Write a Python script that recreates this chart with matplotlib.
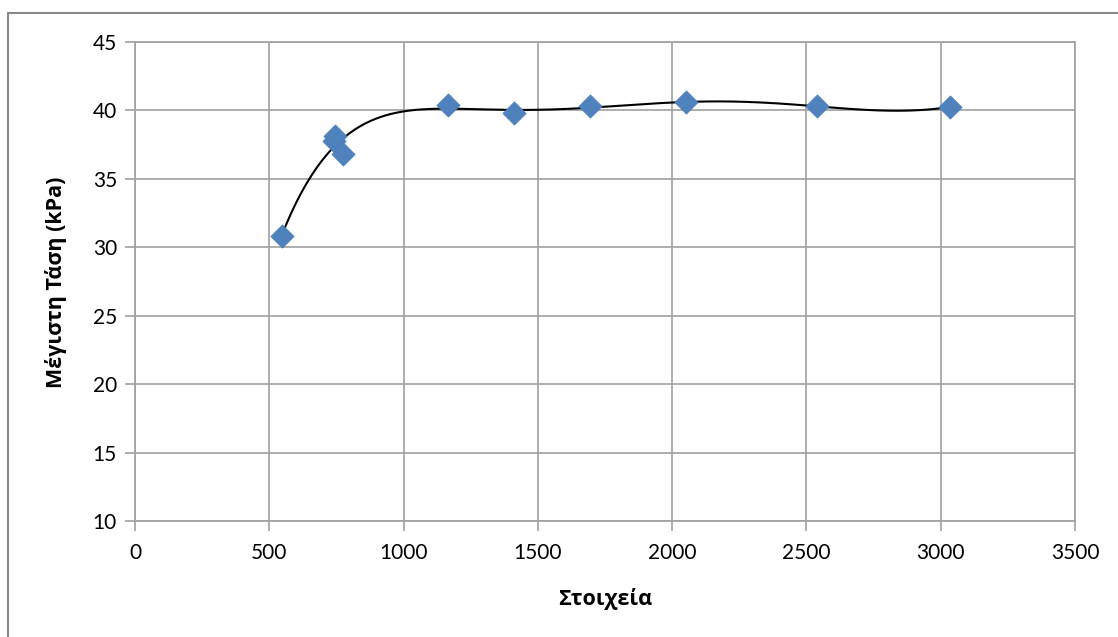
import numpy as np
import matplotlib
matplotlib.use("Agg")
import matplotlib.pyplot as plt
from matplotlib.patches import Rectangle

plt.rcParams['font.family'] = ['Lato', 'DejaVu Sans']

# Data
elements = [547, 740, 745, 775, 1165, 1411, 1694, 2051, 2539, 3034]
max_stress = [30.85, 37.75, 38.1, 36.8, 40.4, 39.8, 40.3, 40.6, 40.3, 40.25]
x_ticks = [0, 500, 1000, 1500, 2000, 2500, 3000, 3500]
y_ticks = [10, 15, 20, 25, 30, 35, 40, 45]
x_label = "Στοιχεία"
y_label = "Μέγιστη Τάση (kPa)"

W, H = 1118, 637
fig = plt.figure(figsize=(W / 100, H / 100), dpi=100)
fig.patches.append(Rectangle((8 / W, -0.2), 1.2, 1.2 - 13 / H,
                             transform=fig.transFigure, fill=False,
                             edgecolor='#888888', linewidth=1.5))

ax = fig.add_axes([135 / W, 1 - 521 / H, (1075 - 135) / W, (521 - 42) / H])

gray = '#a0a0a0'
ax.grid(True, color=gray, linewidth=1.2)
ax.set_axisbelow(True)
for s in ax.spines.values():
    s.set_color(gray)
    s.set_linewidth(1.2)

ax.set_xlim(0, 3500)
ax.set_ylim(10, 45)
ax.set_xticks(x_ticks)
ax.set_yticks(y_ticks)
ax.tick_params(axis='both', length=7, width=1.2, color=gray, labelsize=15,
               pad=6)
ax.tick_params(axis='x', pad=9)

# Polynomial trendline (order 6) computed from the data
xs = np.array(elements, dtype=float)
ys = np.array(max_stress, dtype=float)
xm, xsd = xs.mean(), xs.std()
coef = np.polyfit((xs - xm) / xsd, ys, 6)
xx = np.linspace(xs.min(), xs.max(), 400)
yy = np.polyval(coef, (xx - xm) / xsd)
ax.plot(xx, yy, color='black', linewidth=1.5, zorder=3)

ax.scatter(elements, max_stress, marker='D', s=140, color='#4f81bd',
           edgecolors='#4a7ebb', linewidths=0.5, zorder=4)

lab_font = dict(fontsize=15.5, fontweight='bold', fontfamily='Open Sans')
fig.text(605 / W, 1 - 599 / H, x_label, ha='center', va='center', **lab_font)
fig.text(56 / W, 1 - 282 / H, y_label, ha='center', va='center',
         rotation=90, **lab_font)

fig.savefig("out.png", dpi=100)
